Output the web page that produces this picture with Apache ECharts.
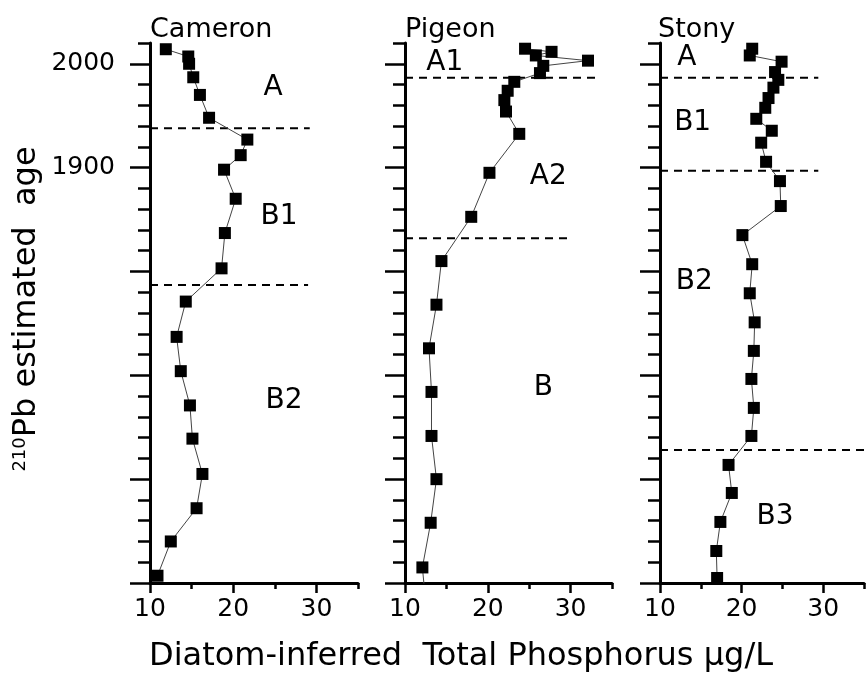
<!DOCTYPE html>
<html><head><meta charset="utf-8">
<script src="https://cdn.jsdelivr.net/npm/echarts@6/dist/echarts.min.js"></script>
<style>html,body{margin:0;padding:0;background:#fff}#c{width:867px;height:683px}</style>
</head><body><div id="c"></div>
<script>
// ---------- data ----------
const panelTitles = ['Cameron', 'Pigeon', 'Stony'];
const xTickLabels = [10, 20, 30];
const yTickLabels = [1900, 2000];
const yMajorTicks = [1500, 1600, 1700, 1800, 1900, 2000];
const xAxisTitle = 'Diatom-inferred  Total Phosphorus µg/L';
const yAxisSup = '210';
const yAxisTitle = 'Pb estimated  age';

const cameronAge = [2014, 2007, 2000, 1987, 1970, 1948, 1927, 1912, 1898, 1870, 1837, 1803, 1771, 1737, 1704, 1671, 1639, 1605, 1572, 1540, 1507];
const cameronTP  = [11.9, 14.6, 14.7, 15.2, 16.0, 17.1, 21.7, 20.9, 18.9, 20.3, 19.0, 18.6, 14.3, 13.2, 13.7, 14.8, 15.1, 16.3, 15.6, 12.5, 10.9];
const cameronBoundaryAge = [1938, 1787];
const cameronBoundaryEnd = [29.2, 29.0];
const cameronZoneNames = ['A', 'B1', 'B2'];
const cameronZoneTP = [24.8, 25.5, 26.1];
const cameronZoneAge = [1977, 1853, 1676];

const pigeonAge = [2014.5, 2011.5, 2008, 2003, 1998, 1991, 1982.6, 1974, 1965, 1954, 1932.5, 1895, 1852.6, 1810, 1768, 1726, 1684, 1641.6, 1600, 1558, 1515, 1490];
const pigeonTP  = [24.5, 27.7, 25.8, 32.1, 26.7, 26.3, 23.2, 22.4, 22.0, 22.2, 23.8, 20.2, 18.0, 14.4, 13.8, 12.9, 13.2, 13.2, 13.8, 13.1, 12.1, 12.4];
const pigeonBoundaryAge = [1986.5, 1832];
const pigeonBoundaryEnd = [33.5, 29.6];
const pigeonZoneNames = ['A1', 'A2', 'B'];
const pigeonZoneTP = [14.8, 27.3, 26.7];
const pigeonZoneAge = [2001, 1891, 1688];

const stonyAge = [2014.5, 2008, 2002, 1992, 1984.5, 1977, 1967, 1957.6, 1947, 1935.5, 1924, 1905.6, 1887, 1863, 1835, 1807, 1779, 1751, 1723.5, 1696.5, 1668.6, 1641.6, 1613.7, 1586.7, 1558.8, 1530.8, 1504.8];
const stonyTP  = [21.3, 21.0, 24.9, 24.1, 24.5, 23.9, 23.3, 22.9, 21.8, 23.7, 22.4, 23.0, 24.7, 24.8, 20.1, 21.3, 21.0, 21.6, 21.5, 21.2, 21.5, 21.2, 18.4, 18.8, 17.4, 16.9, 17.0];
const stonyBoundaryAge = [1986.5, 1897, 1628];
const stonyBoundaryEnd = [29.4, 29.4, 35];
const stonyZoneNames = ['A', 'B1', 'B2', 'B3'];
const stonyZoneTP = [13.3, 14.0, 14.2, 24.1];
const stonyZoneAge = [2006, 1943, 1790, 1564];

// ---------- build ----------
const FONT = 'DejaVu Sans';
const panels = [
  {age: cameronAge, tp: cameronTP, bAge: cameronBoundaryAge, bEnd: cameronBoundaryEnd, zN: cameronZoneNames, zT: cameronZoneTP, zA: cameronZoneAge},
  {age: pigeonAge, tp: pigeonTP, bAge: pigeonBoundaryAge, bEnd: pigeonBoundaryEnd, zN: pigeonZoneNames, zT: pigeonZoneTP, zA: pigeonZoneAge},
  {age: stonyAge, tp: stonyTP, bAge: stonyBoundaryAge, bEnd: stonyBoundaryEnd, zN: stonyZoneNames, zT: stonyZoneTP, zA: stonyZoneAge}
];
const gridLeft = [150, 405, 660];
const gridWidth = [208, 207, 207];
const titleLeft = [150, 405, 658];

const grid = [], xAxis = [], yAxis = [], series = [], title = [];
const axisLine = {show: true, onZero: false, lineStyle: {color: '#000', width: 3}};
panels.forEach((p, i) => {
  grid.push({left: gridLeft[i], width: gridWidth[i], top: 43, height: 540});
  title.push({text: panelTitles[i], left: titleLeft[i], top: 16, padding: 0,
    textStyle: {fontSize: 27, fontWeight: 'normal', fontFamily: FONT, color: '#000'}});
  xAxis.push({gridIndex: i, type: 'value', min: 10, max: 35, interval: 5, position: 'bottom',
    axisLine: axisLine, splitLine: {show: false},
    axisTick: {show: true, length: 6, lineStyle: {color: '#000', width: 2.5}},
    axisLabel: {show: true, margin: 14, fontSize: 25, fontFamily: FONT, color: '#000',
      formatter: v => xTickLabels.includes(v) ? String(v) : ''}});
  xAxis.push({gridIndex: i, type: 'value', min: 10, max: 35, position: 'bottom',
    axisLine: {show: false}, splitLine: {show: false}, axisLabel: {show: false},
    axisTick: {show: true, length: 10, customValues: xTickLabels, lineStyle: {color: '#000', width: 2.5}}});
  yAxis.push({gridIndex: i, type: 'value', min: 1500, max: 2020, interval: 20, position: 'left',
    axisLine: axisLine, splitLine: {show: false},
    axisTick: {show: true, length: 12, lineStyle: {color: '#000', width: 2.5}},
    axisLabel: {show: i === 0, margin: 35, fontSize: 25, fontFamily: FONT, color: '#000',
      formatter: v => yTickLabels.includes(v) ? String(v) : ''}});
  yAxis.push({gridIndex: i, type: 'value', min: 1500, max: 2020, position: 'left',
    axisLine: {show: false}, splitLine: {show: false}, axisLabel: {show: false},
    axisTick: {show: true, length: 20, customValues: yMajorTicks, lineStyle: {color: '#000', width: 2.5}}});

  p.bAge.forEach((a, k) => {
    series.push({type: 'line', xAxisIndex: 2 * i, yAxisIndex: 2 * i, symbol: 'none', silent: true,
      data: [[10, a], [p.bEnd[k], a]],
      lineStyle: {color: '#000', width: 2, type: [8, 6]}, z: 2});
  });
  series.push({type: 'line', xAxisIndex: 2 * i, yAxisIndex: 2 * i, clip: true,
    data: p.age.map((a, k) => [p.tp[k], a]),
    symbol: 'rect', symbolSize: 12, showAllSymbol: true,
    itemStyle: {color: '#000'}, lineStyle: {color: '#444', width: 1}, z: 3});
  series.push({type: 'scatter', xAxisIndex: 2 * i, yAxisIndex: 2 * i, silent: true,
    symbolSize: 1, itemStyle: {color: '#000', opacity: 0},
    data: p.zN.map((n, k) => ({name: n, value: [p.zT[k], p.zA[k]]})),
    label: {show: true, position: 'inside', formatter: '{b}', fontSize: 28, fontFamily: FONT,
      color: '#000', opacity: 1, textBorderWidth: 0}, z: 4});
});

const chart = echarts.init(document.getElementById('c'), null, {renderer: 'canvas'});
chart.setOption({
  animation: false,
  backgroundColor: '#fff',
  title: title,
  grid: grid, xAxis: xAxis, yAxis: yAxis, series: series,
  graphic: [
    {type: 'text', x: 461, y: 641, silent: true,
      style: {text: xAxisTitle, fill: '#000', font: '32px "DejaVu Sans"', textAlign: 'center', textVerticalAlign: 'top'}},
    {type: 'text', x: 27, y: 309, rotation: Math.PI / 2, silent: true,
      style: {text: '{sup|' + yAxisSup + '}{main|' + yAxisTitle + '}', fill: '#000', textAlign: 'center', textVerticalAlign: 'middle',
        rich: {sup: {fontSize: 18, fontFamily: FONT, verticalAlign: 'top', fill: '#000'},
               main: {fontSize: 32, fontFamily: FONT, fill: '#000'}}}}
  ]
});
</script></body></html>
